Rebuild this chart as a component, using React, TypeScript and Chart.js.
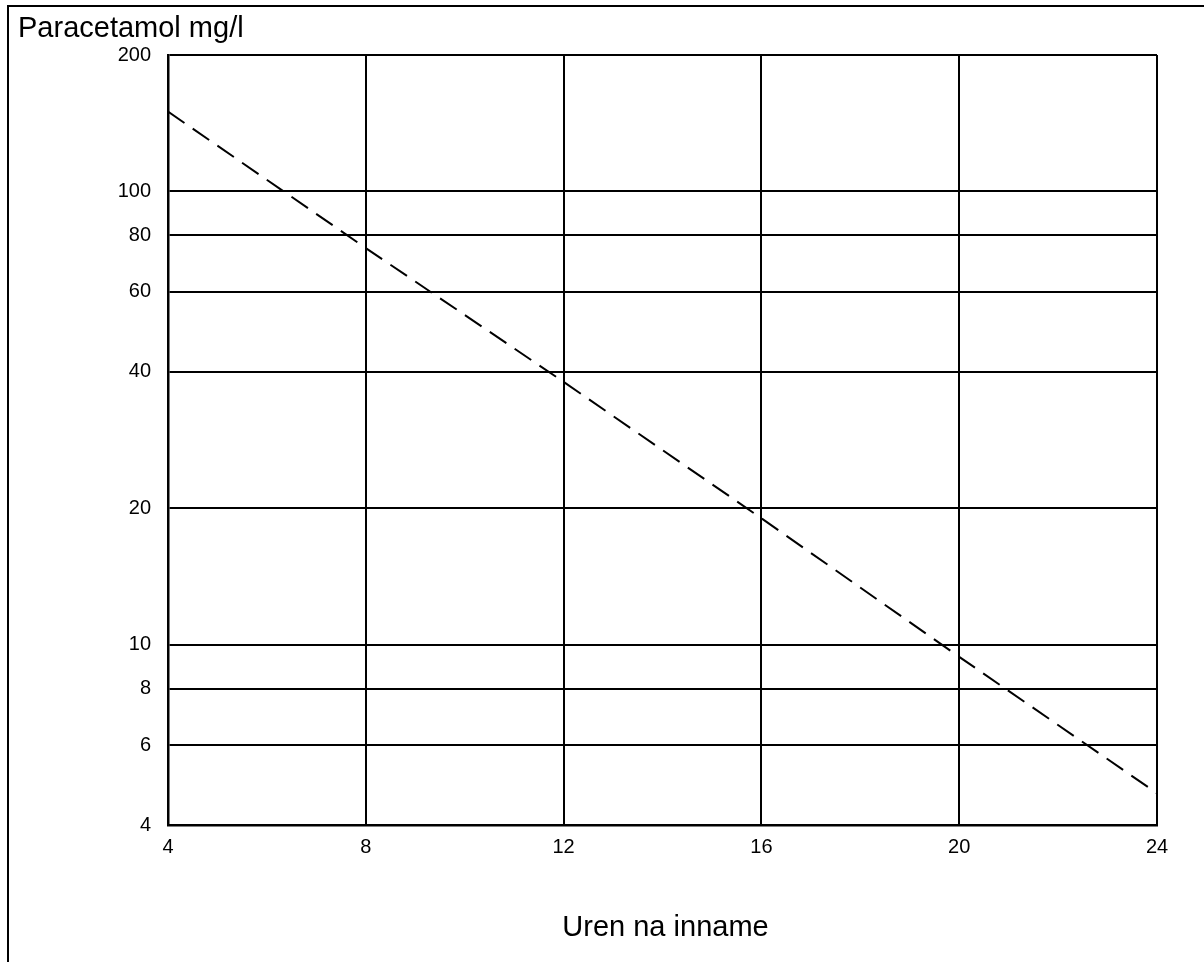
import React, { useEffect, useRef } from "react";
import { Chart, registerables } from "chart.js";

Chart.register(...registerables);

const hours = [4, 8, 12, 16, 20, 24];
const paracetamol = [150, 75, 38, 19, 9.4, 4.7];
const yTicks = [4, 6, 8, 10, 20, 40, 60, 80, 100, 200];
const xTicks = [4, 8, 12, 16, 20, 24];
const yTitle = "Paracetamol mg/l";
const xTitle = "Uren na inname";

const FONT = '"Liberation Sans", Arial, sans-serif';

const titlesPlugin = {
  id: "titles",
  afterDraw(chart: any) {
    const ctx = chart.ctx;
    const a = chart.chartArea;
    ctx.save();
    ctx.fillStyle = "#000";
    ctx.font = `29px ${FONT}`;
    ctx.textBaseline = "alphabetic";
    ctx.textAlign = "left";
    ctx.fillText(yTitle, 18, 37);
    ctx.textAlign = "center";
    ctx.fillText(xTitle, (a.left + a.right) / 2 + 3, 936);
    ctx.restore();
  },
};

export default function App() {
  const ref = useRef<HTMLCanvasElement>(null);

  useEffect(() => {
    if (!ref.current) return;
    const chart = new Chart(ref.current, {
      type: "line",
      data: {
        datasets: [
          {
            data: hours.map((h, i) => ({ x: h, y: paracetamol[i] })),
            borderColor: "#000",
            borderWidth: 2,
            borderDash: [20, 10],
            pointRadius: 0,
            tension: 0,
            fill: false,
          },
        ],
      },
      options: {
        responsive: false,
        animation: false,
        devicePixelRatio: 1,
        layout: { padding: { top: 55, right: 47, bottom: 0, left: 0 } },
        plugins: {
          legend: { display: false },
          tooltip: { enabled: false },
          title: { display: false },
        },
        scales: {
          x: {
            type: "linear",
            min: 4,
            max: 24,
            afterBuildTicks: (s: any) => {
              s.ticks = xTicks.map((v) => ({ value: v }));
            },
            afterFit: (s: any) => {
              s.height = 137;
            },
            grid: { color: "#000", lineWidth: 2, drawTicks: false },
            border: { color: "#000", width: 2.5 },
            ticks: {
              color: "#000",
              font: { size: 20, family: FONT },
              padding: 10,
              maxRotation: 0,
              callback: (v: any) => String(v),
            },
          },
          y: {
            type: "logarithmic",
            min: 4,
            max: 200,
            afterBuildTicks: (s: any) => {
              s.ticks = yTicks.map((v) => ({ value: v }));
            },
            afterFit: (s: any) => {
              s.width = 168;
            },
            grid: { color: "#000", lineWidth: 2, drawTicks: false },
            border: { color: "#000", width: 2.5 },
            ticks: {
              color: "#000",
              font: { size: 20, family: FONT },
              padding: 17,
              callback: (v: any) => String(v),
            },
          },
        },
      },
      plugins: [titlesPlugin],
    });
    return () => chart.destroy();
  }, []);

  return (
    <>
      <div
        style={{
          position: "fixed",
          left: 7,
          top: 5,
          width: 1300,
          height: 1000,
          border: "2px solid #000",
          boxSizing: "border-box",
          pointerEvents: "none",
        }}
      />
      <canvas
        ref={ref}
        width={1204}
        height={962}
        style={{ position: "fixed", left: 0, top: 0, width: 1204, height: 962 }}
      />
    </>
  );
}
